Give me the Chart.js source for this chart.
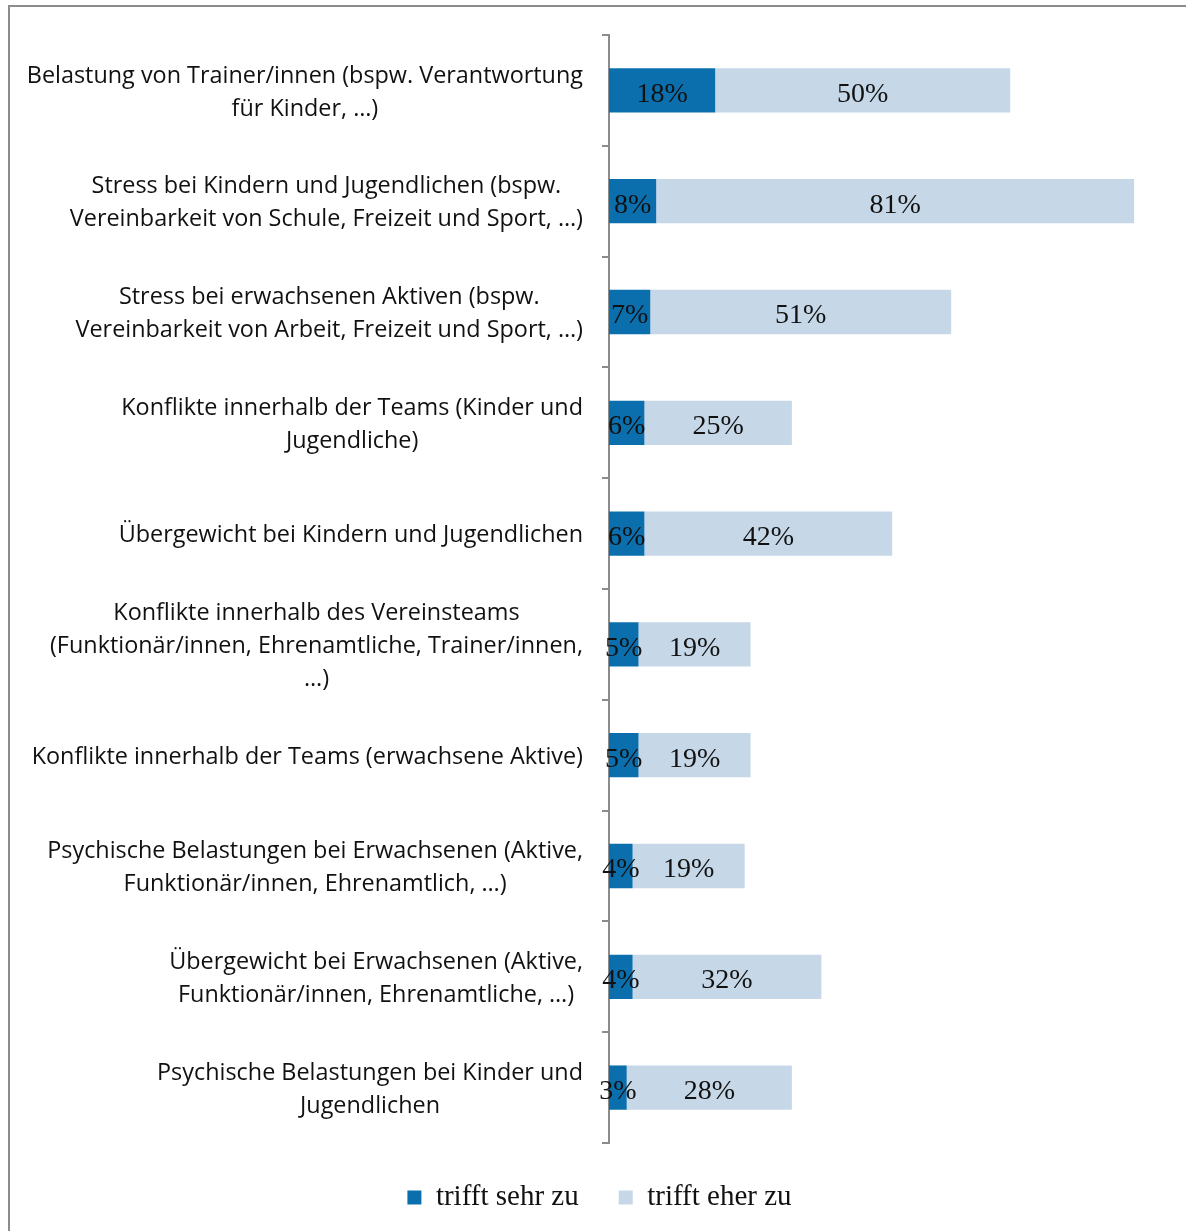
<!DOCTYPE html>
<html lang="de">
<head>
<meta charset="utf-8">
<title>Belastungen im Verein</title>
<script src="https://cdn.jsdelivr.net/npm/chart.js@4.4.1/dist/chart.umd.min.js"></script>
<style>
    html, body {
        margin: 0;
        padding: 0;
        background: #fff;
        overflow: hidden;
        width: 1186px;
        height: 1231px;
    }
    .marco {
        position: absolute;
        left: 8px;
        top: 5px;
        width: 1300px;
        height: 1300px;
        border-left: 2px solid #8c8c8c;
        border-top: 2px solid #8c8c8c;
    }
    .contenedor {
        position: absolute;
        left: 0;
        top: 0;
        width: 1215px;
        height: 1231px;
    }
</style>
</head>
<body>
<div class="marco"></div>
<div class="contenedor">
    <canvas id="graficoBelastung"></canvas>
</div>

<script>
// ------------------------------ Datos ------------------------------

const categorias = [
    ["Belastung von Trainer/innen (bspw. Verantwortung", "für Kinder, …)"],
    ["Stress bei Kindern und Jugendlichen (bspw.", "Vereinbarkeit von Schule, Freizeit und Sport, …)"],
    ["Stress bei erwachsenen Aktiven (bspw.", "Vereinbarkeit von Arbeit, Freizeit und Sport, …)"],
    ["Konflikte innerhalb der Teams (Kinder und", "Jugendliche)"],
    ["Übergewicht bei Kindern und Jugendlichen"],
    ["Konflikte innerhalb des Vereinsteams", "(Funktionär/innen, Ehrenamtliche, Trainer/innen,", "…)"],
    ["Konflikte innerhalb der Teams (erwachsene Aktive)"],
    ["Psychische Belastungen bei Erwachsenen (Aktive,", "Funktionär/innen, Ehrenamtlich, …)"],
    ["Übergewicht bei Erwachsenen (Aktive,", "Funktionär/innen, Ehrenamtliche, …)"],
    ["Psychische Belastungen bei Kinder und", "Jugendlichen"]
];

const valoresSehr = [18, 8, 7, 6, 6, 5, 5, 4, 4, 3];
const valoresEher = [50, 81, 51, 25, 42, 19, 19, 19, 32, 28];

const nombresSeries = ["trifft sehr zu", "trifft eher zu"];
const colores = ["#0b6fae", "#c6d8e8"];

// ------------------------------ Plugins propios ------------------------------

// Etiquetas de categoría: bloque alineado a la derecha, líneas centradas entre sí
const etiquetasCategorias = {
    id: "etiquetasCategorias",
    afterDraw(chart) {
        const ctx = chart.ctx;
        const escalaY = chart.scales.y;
        const derecha = chart.chartArea.left - 26;
        const altoLinea = 33;

        ctx.save();
        ctx.font = '23.4px "Open Sans"';
        ctx.fillStyle = "#111";
        ctx.textAlign = "center";
        ctx.textBaseline = "middle";

        categorias.forEach((lineas, i) => {
            const ancho = Math.max(...lineas.map(l => ctx.measureText(l).width));
            const centroX = derecha - ancho / 2;
            const centroY = escalaY.getPixelForTick(i) + 2;
            const inicio = centroY - (lineas.length - 1) * altoLinea / 2;
            lineas.forEach((linea, k) => {
                ctx.fillText(linea, centroX, inicio + k * altoLinea);
            });
        });
        ctx.restore();
    }
};

// Porcentajes dentro de cada barra
const etiquetasPorcentaje = {
    id: "etiquetasPorcentaje",
    afterDatasetsDraw(chart) {
        const ctx = chart.ctx;
        ctx.save();
        ctx.font = '28px "Liberation Serif"';
        ctx.fillStyle = "#111";
        ctx.textAlign = "center";
        ctx.textBaseline = "middle";

        chart.data.datasets.forEach((dataset, i) => {
            chart.getDatasetMeta(i).data.forEach((barra, j) => {
                const centro = barra.getCenterPoint();
                ctx.fillText(dataset.data[j] + "%", centro.x, centro.y + 4);
            });
        });
        ctx.restore();
    }
};

// ------------------------------ Gráfico ------------------------------

const ctx = document.getElementById("graficoBelastung").getContext("2d");

new Chart(ctx, {
    type: "bar",
    data: {
        labels: categorias,
        datasets: [
            {
                label: nombresSeries[0],
                data: valoresSehr,
                backgroundColor: colores[0]
            },
            {
                label: nombresSeries[1],
                data: valoresEher,
                backgroundColor: colores[1]
            }
        ]
    },
    options: {
        indexAxis: "y",
        responsive: true,
        maintainAspectRatio: false,
        animation: false,
        layout: {
            padding: { top: 35, right: 16, left: 0, bottom: 9 }
        },
        datasets: {
            bar: {
                categoryPercentage: 1,
                barPercentage: 0.4
            }
        },
        scales: {
            x: {
                stacked: true,
                display: false,
                min: 0,
                max: 100
            },
            y: {
                stacked: true,
                afterFit: (escala) => { escala.width = 609; },
                grid: {
                    drawOnChartArea: false,
                    drawTicks: true,
                    tickLength: 7,
                    color: "#8c8c8c",
                    lineWidth: 2,
                    offset: true
                },
                border: {
                    color: "#8c8c8c",
                    width: 2
                },
                ticks: {
                    display: false
                }
            }
        },
        plugins: {
            legend: {
                display: true,
                position: "bottom",
                labels: {
                    color: "#111",
                    font: {
                        family: "Liberation Serif",
                        size: 29
                    },
                    boxWidth: 14,
                    boxHeight: 14,
                    padding: 40
                }
            },
            tooltip: { enabled: false }
        }
    },
    plugins: [etiquetasCategorias, etiquetasPorcentaje]
});
</script>
</body>
</html>
